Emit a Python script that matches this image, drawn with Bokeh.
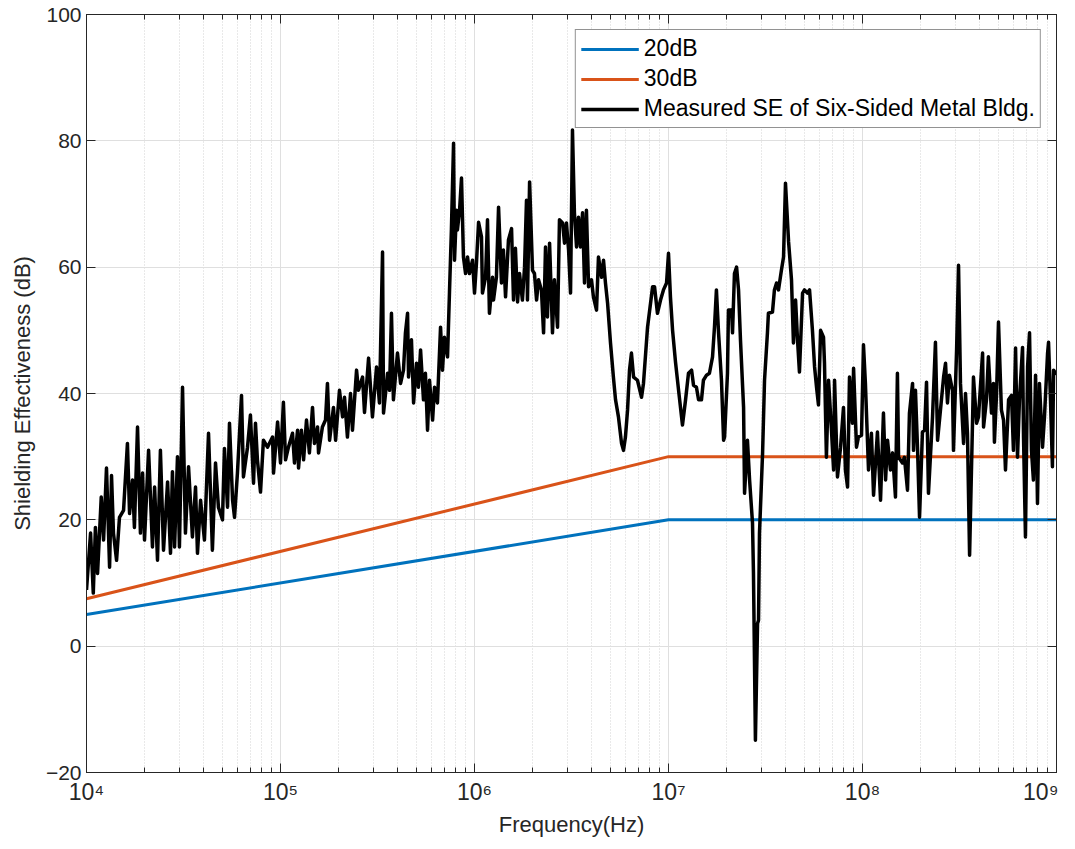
from bokeh.plotting import figure
from bokeh.models import (LogAxis, LinearAxis, LogTicker, FixedTicker, Legend, LegendItem, Range1d)
from bokeh.embed import file_html
from bokeh.resources import INLINE

# ---- data ----
limit_freq = [1e4, 1e7, 1e9]
limit_20db = [5.0, 20.0, 20.0]
limit_30db = [7.5, 30.0, 30.0]

# measured shielding effectiveness: log10(frequency / Hz) and dB
log_freq = [
    4.000, 4.021, 4.035, 4.046, 4.057, 4.076, 4.088, 4.103, 4.119, 4.129,
    4.139, 4.155, 4.170, 4.191, 4.211, 4.222, 4.237, 4.247, 4.263, 4.278,
    4.289, 4.299, 4.320, 4.340, 4.351, 4.366, 4.381, 4.397, 4.418, 4.433,
    4.443, 4.454, 4.469, 4.479, 4.495, 4.510, 4.526, 4.546, 4.562, 4.572,
    4.588, 4.608, 4.629, 4.649, 4.665, 4.680, 4.701, 4.711, 4.727, 4.737,
    4.753, 4.763, 4.778, 4.799, 4.809, 4.830, 4.845, 4.861, 4.871, 4.881,
    4.897, 4.912, 4.933, 4.959, 4.964, 4.985, 5.000,
    5.015, 5.026, 5.041, 5.062, 5.072, 5.088, 5.093, 5.108, 5.119, 5.134,
    5.149, 5.165, 5.175, 5.191, 5.196, 5.216, 5.232, 5.242, 5.253, 5.273,
    5.284, 5.304, 5.320, 5.330, 5.345, 5.361, 5.371, 5.392, 5.402, 5.423,
    5.433, 5.454, 5.474, 5.495, 5.510, 5.526, 5.531, 5.552, 5.562, 5.572,
    5.582, 5.603, 5.619, 5.634, 5.644, 5.655, 5.660, 5.675, 5.686, 5.701,
    5.711, 5.722, 5.737, 5.747, 5.758, 5.768, 5.784, 5.794, 5.809, 5.825,
    5.835, 5.845, 5.861, 5.871, 5.881,
    5.892, 5.897, 5.907, 5.912, 5.923, 5.933, 5.943, 5.954, 5.964, 5.974,
    5.990, 6.000, 6.010, 6.021, 6.036, 6.041, 6.057, 6.067, 6.077, 6.093,
    6.098, 6.113, 6.124, 6.139, 6.149, 6.160, 6.175, 6.191, 6.201, 6.211,
    6.222, 6.232, 6.247, 6.258, 6.268, 6.273, 6.284, 6.299, 6.309, 6.320,
    6.330, 6.345, 6.356, 6.366, 6.376, 6.387, 6.402, 6.412, 6.428, 6.438,
    6.454, 6.464, 6.474, 6.485, 6.495, 6.505, 6.515, 6.526, 6.536, 6.546,
    6.557, 6.567, 6.577, 6.588, 6.603, 6.613, 6.629, 6.639, 6.655, 6.665,
    6.675, 6.686, 6.701, 6.716, 6.727, 6.742, 6.758, 6.768, 6.778, 6.789,
    6.799, 6.809, 6.820, 6.840, 6.861, 6.871, 6.892, 6.918, 6.928, 6.943,
    6.959, 6.974, 6.990, 7.000, 7.010, 7.021, 7.036, 7.052, 7.072, 7.088,
    7.103, 7.119, 7.129, 7.144, 7.155, 7.170, 7.180, 7.196, 7.211, 7.227,
    7.237, 7.247, 7.258, 7.273, 7.284, 7.289, 7.304, 7.309, 7.325, 7.330,
    7.340, 7.351, 7.361, 7.371, 7.387, 7.392, 7.407, 7.418, 7.433, 7.438,
    7.448, 7.459, 7.464, 7.469, 7.485, 7.495, 7.510, 7.515, 7.536, 7.546,
    7.557, 7.567, 7.582, 7.593, 7.603, 7.619, 7.634, 7.644, 7.655, 7.665,
    7.675, 7.691, 7.701, 7.716, 7.727, 7.742, 7.753, 7.763, 7.773, 7.784,
    7.799, 7.804, 7.814, 7.825, 7.840, 7.851, 7.856, 7.871, 7.887, 7.902,
    7.912, 7.923, 7.933, 7.948, 7.954, 7.969, 7.979, 7.995,
    8.005, 8.015, 8.031, 8.046, 8.057, 8.067, 8.077, 8.093, 8.108, 8.119,
    8.129, 8.144, 8.155, 8.170, 8.180, 8.186, 8.206, 8.216, 8.232, 8.242,
    8.258, 8.263, 8.273, 8.284, 8.294, 8.309, 8.320, 8.330, 8.340, 8.361,
    8.376, 8.387, 8.402, 8.418, 8.428, 8.438, 8.448, 8.464, 8.469, 8.485,
    8.495, 8.505, 8.521, 8.531, 8.541, 8.552, 8.567, 8.572, 8.588, 8.598,
    8.619, 8.624, 8.639, 8.649, 8.665, 8.675, 8.680, 8.691, 8.701, 8.716,
    8.727, 8.737, 8.753, 8.768, 8.778, 8.789, 8.799, 8.809, 8.825, 8.830,
    8.840, 8.851, 8.861, 8.871, 8.881, 8.892, 8.902, 8.912, 8.928, 8.938,
    8.954, 8.959, 8.969, 8.979, 8.985, 8.995, 9.000,
]
se_db = [
    8.9, 17.9, 8.4, 18.8, 11.5, 23.6, 16.8, 28.2, 12.5, 27.0,
    17.9, 13.6, 20.4, 21.5, 32.1, 21.0, 26.3, 18.8, 34.7, 17.9,
    27.4, 16.8, 31.0, 15.7, 25.2, 13.6, 31.0, 15.2, 26.0, 14.7,
    27.6, 15.7, 30.0, 15.7, 41.0, 17.9, 28.4, 17.3, 25.2, 14.7,
    23.1, 16.8, 33.7, 15.2, 29.0, 22.0, 20.0, 31.3, 22.0, 35.3,
    23.1, 20.4, 27.4, 39.7, 26.8, 31.5, 36.6, 25.8, 35.3, 29.5,
    24.4, 32.6, 31.5, 33.1, 27.4, 35.5, 29.0,
    38.6, 29.5, 31.5, 33.7, 29.0, 34.2, 28.2, 34.2, 29.5, 35.8,
    30.6, 37.8, 32.1, 34.7, 30.6, 34.7, 35.8, 41.6, 32.6, 37.8,
    32.6, 40.5, 36.3, 39.4, 33.1, 40.0, 34.2, 43.7, 40.5, 42.6,
    37.0, 45.6, 36.3, 44.2, 38.5, 62.4, 36.9, 43.2, 40.5, 52.7,
    39.0, 46.4, 41.6, 43.7, 49.6, 52.7, 42.6, 48.5, 38.5, 44.8,
    41.0, 46.9, 39.0, 43.2, 34.2, 42.1, 35.8, 41.0, 38.5, 50.5,
    43.7, 48.9, 45.8, 56.0, 66.0,
    79.6, 61.1, 69.0, 65.9, 69.0, 74.1, 61.6, 59.0, 61.6, 59.0,
    61.1, 55.9, 60.6, 67.1, 64.8, 55.9, 58.4, 67.5, 52.7, 58.4,
    54.8, 58.4, 69.5, 57.5, 62.7, 55.3, 64.3, 66.1, 54.8, 63.0,
    54.5, 59.0, 54.8, 60.0, 70.6, 54.8, 73.5, 59.5, 59.0, 54.8,
    58.0, 56.4, 49.6, 63.2, 52.1, 63.8, 49.6, 58.0, 50.5, 67.5,
    67.0, 63.8, 67.0, 62.7, 55.9, 81.7, 68.6, 63.2, 67.9, 63.2,
    68.6, 57.5, 69.0, 56.9, 58.0, 55.3, 53.2, 61.6, 58.4, 61.1,
    57.5, 54.3, 48.0, 42.6, 39.0, 36.3, 32.1, 31.0, 33.1, 37.4,
    43.7, 46.4, 42.6, 42.1, 39.4, 41.6, 50.5, 56.9, 56.9, 52.7,
    54.8, 56.4, 57.5, 62.2, 55.3, 50.0, 45.0, 40.5, 35.0, 39.0,
    43.2, 43.7, 41.3, 41.0, 39.0, 39.0, 42.1, 42.9, 43.2, 45.8,
    50.5, 56.4, 49.6, 42.1, 32.6, 33.1, 43.2, 53.2, 53.2, 49.6,
    59.0, 60.0, 56.4, 48.5, 37.8, 24.2, 32.6, 26.3, 19.5, 11.5,
    -14.9, 3.6, 4.1, 17.9, 30.6, 42.1, 49.6, 52.7, 52.9, 56.4,
    57.5, 56.4, 59.5, 61.6, 73.3, 64.0, 58.0, 48.0, 54.8, 48.5,
    43.4, 55.9, 56.4, 55.9, 56.4, 50.0, 44.2, 41.0, 38.2, 50.0,
    48.9, 44.8, 29.9, 42.1, 34.2, 27.9, 42.1, 26.8, 31.5, 37.8,
    27.9, 25.2, 42.6, 35.3, 44.0, 31.5, 33.1, 33.4,
    47.7, 41.6, 27.9, 33.7, 23.9, 29.0, 33.9, 23.1, 36.9, 26.3,
    32.6, 27.9, 30.6, 23.6, 43.2, 29.9, 29.0, 29.9, 24.7, 36.9,
    41.6, 31.0, 40.5, 31.0, 20.4, 33.9, 34.2, 41.8, 24.2, 36.3,
    48.1, 32.6, 37.4, 42.6, 44.8, 38.5, 42.9, 40.5, 31.0, 46.9,
    60.3, 41.6, 32.1, 40.0, 33.7, 14.4, 35.3, 42.6, 35.3, 36.3,
    46.4, 34.7, 39.0, 45.8, 36.9, 41.6, 32.3, 40.0, 51.3, 37.4,
    35.8, 27.9, 39.0, 39.7, 31.0, 47.2, 29.9, 39.0, 47.3, 33.1,
    17.3, 44.2, 49.6, 31.0, 26.3, 42.9, 22.6, 41.6, 31.5, 36.3,
    46.4, 48.1, 39.0, 28.4, 43.7, 43.2, 43.0,
]
freq_hz = [10 ** e for e in log_freq]

x_ticks = [1e4, 1e5, 1e6, 1e7, 1e8, 1e9]
x_tick_labels = ["10\u2074", "10\u2075", "10\u2076", "10\u2077", "10\u2078", "10\u2079"]
y_ticks = [-20, 0, 20, 40, 60, 80, 100]

FONT = "Liberation Sans"
AX = "#262626"

p = figure(
    x_axis_type="log",
    x_range=Range1d(1e4, 1e9),
    y_range=Range1d(-20, 100),
    width=1058, height=846,
    min_border_left=86, min_border_right=2, min_border_top=14, min_border_bottom=74,
    output_backend="svg", toolbar_location=None,
    background_fill_color="white", border_fill_color="white",
)
p.outline_line_color = AX
p.outline_line_width = 1

# grids
p.xgrid.grid_line_color = "#dfdfdf"
p.xgrid.minor_grid_line_color = "#d2d2d2"
p.xgrid.minor_grid_line_dash = "1 2"
p.ygrid.grid_line_color = "#dfdfdf"
p.ygrid.ticker = FixedTicker(ticks=y_ticks)

# lines
r20 = p.line(limit_freq, limit_20db, line_color="#0072BD", line_width=3)
r30 = p.line(limit_freq, limit_30db, line_color="#D95319", line_width=3)
rm = p.line(freq_hz, se_db, line_color="black", line_width=3.5, line_join="round")

# axes
xa = p.xaxis[0]
xa.ticker = LogTicker(num_minor_ticks=10)
xa.major_label_overrides = {t: l for t, l in zip(x_ticks, x_tick_labels)}
xa.axis_label = "Frequency(Hz)"
ya = p.yaxis[0]
ya.ticker = FixedTicker(ticks=y_ticks)
ya.axis_label = "Shielding Effectiveness (dB)"
for ax in (xa, ya):
    ax.axis_line_color = AX
    ax.major_tick_line_color = AX
    ax.minor_tick_line_color = AX
    ax.major_tick_in = 9
    ax.major_tick_out = 0
    ax.minor_tick_in = 5
    ax.minor_tick_out = 0
    ax.major_label_text_font = FONT
    ax.major_label_text_color = AX
    ax.axis_label_text_font = FONT
    ax.axis_label_text_font_style = "normal"
    ax.axis_label_text_color = AX
xa.major_label_text_font_size = "23px"
ya.major_label_text_font_size = "21px"
xa.axis_label_text_font_size = "22px"
ya.axis_label_text_font_size = "22px"
ya.minor_tick_line_color = None
xa.major_label_standoff = 6
xa.axis_label_standoff = 4
ya.major_label_standoff = 5
ya.axis_label_standoff = 8

top = LogAxis(ticker=LogTicker(num_minor_ticks=10), major_label_text_font_size="1px",
              major_label_text_color=None,
              axis_line_color=AX, major_tick_line_color=AX, minor_tick_line_color=AX,
              major_tick_in=9, major_tick_out=0, minor_tick_in=5, minor_tick_out=0,
              major_label_standoff=0)
right = LinearAxis(ticker=FixedTicker(ticks=y_ticks), major_label_text_font_size="1px",
                   major_label_text_color=None,
                   axis_line_color=AX, major_tick_line_color=AX, minor_tick_line_color=None,
                   major_tick_in=9, major_tick_out=0, major_label_standoff=0)
p.add_layout(top, "above")
p.add_layout(right, "right")

legend = Legend(items=[
    LegendItem(label="20dB", renderers=[r20]),
    LegendItem(label="30dB", renderers=[r30]),
    LegendItem(label="Measured SE of Six-Sided Metal Bldg.", renderers=[rm]),
], location="top_right")
legend.label_text_font = FONT
legend.label_text_font_size = "23px"
legend.label_text_color = "black"
legend.glyph_width = 58
legend.glyph_height = 26
legend.label_height = 26
legend.label_standoff = 5
legend.spacing = 3
legend.padding = 5
legend.margin = 15
legend.border_line_color = AX
legend.border_line_width = 1
legend.background_fill_alpha = 1.0
p.add_layout(legend, "center")

open("out.html", "w").write(file_html(p, INLINE))
